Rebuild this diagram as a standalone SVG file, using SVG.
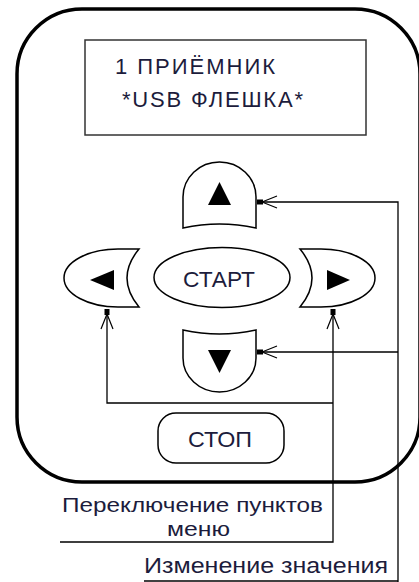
<svg xmlns="http://www.w3.org/2000/svg" width="419" height="582" viewBox="0 0 419 582">
<style>
  .btn { fill: #fff; stroke: #000; stroke-width: 1.5; }
  .tri { fill: #000; stroke: none; }
  .lbl { font-family: "Liberation Sans", Arial, sans-serif; font-size: 22px; fill: #1c1c3c; }
  .sm { font-size: 21px; }
  .conn { fill: none; stroke: #000; stroke-width: 1.3; }
</style>
<defs>
  <marker id="tail" markerUnits="userSpaceOnUse" markerWidth="30" markerHeight="30" refX="0" refY="0" orient="auto" overflow="visible">
    <rect x="0" y="-2.5" width="6" height="5" fill="#000"/>
    <path d="M5,0 L20,-6 M5,0 L20,6" stroke="#000" stroke-width="1.2" fill="none"/>
  </marker>
</defs>
<rect width="419" height="582" fill="#fff"/>
<g id="device">
  <rect x="17" y="9" width="403" height="473" rx="65" ry="65" fill="none" stroke="#000" stroke-width="3.5"/>
</g>
<g id="display">
  <rect x="85" y="40" width="281" height="95" fill="#fff" stroke="#333" stroke-width="1.5"/>
  <text class="lbl" x="115" y="74" textLength="160" lengthAdjust="spacing">1 ПРИЁМНИК</text>
  <text class="lbl" x="122" y="107" textLength="181" lengthAdjust="spacing">*USB ФЛЕШКА*</text>
</g>
<g id="btn-up">
  <path class="btn" d="M183,228 V197 A36.5,35 0 0 1 256,197 V228 Q219.5,220 183,228 Z"/>
  <polygon class="tri" points="219.5,182 208,205 231,205"/>
</g>
<g id="btn-down">
  <path class="btn" d="M183,330 Q219.5,338 256,330 V358 A36.5,34 0 0 1 183,358 Z"/>
  <polygon class="tri" points="208,350 231,350 219.5,373"/>
</g>
<g id="btn-left">
  <path class="btn" d="M139,249 Q115,278 139,307 L118,307 A54,29 0 0 1 118,249 Z"/>
  <polygon class="tri" points="90,280 114,270 114,290"/>
</g>
<g id="btn-right">
  <path class="btn" d="M300,249 Q324,278 300,307 L321,307 A54,29 0 0 0 321,249 Z"/>
  <polygon class="tri" points="350,280 327,270 327,290"/>
</g>
<g id="btn-start">
  <ellipse class="btn" cx="222" cy="277.5" rx="68" ry="30"/>
  <text class="lbl" x="183" y="287" textLength="72" lengthAdjust="spacingAndGlyphs">СТАРТ</text>
</g>
<g id="btn-stop">
  <rect class="btn" x="158" y="413" width="126" height="50" rx="18" ry="18"/>
  <text class="lbl" x="188" y="447" textLength="64" lengthAdjust="spacingAndGlyphs">СТОП</text>
</g>
<g id="connectors">
  <path class="conn" d="M257,202 H398 V582" marker-start="url(#tail)"/>
  <path class="conn" d="M257,352 H398" marker-start="url(#tail)"/>
  <path class="conn" d="M107,309 V403 H333" marker-start="url(#tail)"/>
  <path class="conn" d="M333,309 V542 H60" marker-start="url(#tail)"/>
  <path class="conn" d="M144,581 H398"/>
</g>
<g id="labels">
  <text class="lbl sm" x="62" y="512" textLength="261" lengthAdjust="spacingAndGlyphs">Переключение пунктов</text>
  <text class="lbl sm" x="167" y="536" textLength="63" lengthAdjust="spacingAndGlyphs">меню</text>
  <text class="lbl" x="144" y="573" textLength="244" lengthAdjust="spacingAndGlyphs">Изменение значения</text>
</g>
</svg>
